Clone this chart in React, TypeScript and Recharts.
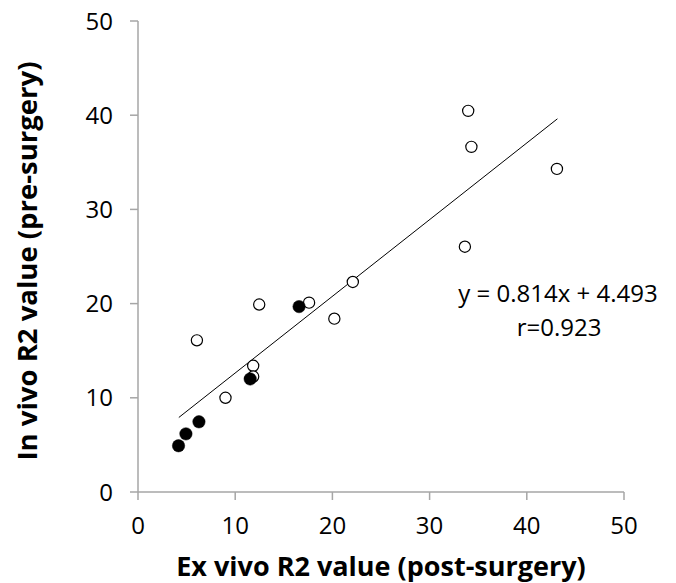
import React from 'react';
import { ScatterChart, Scatter, XAxis, YAxis, ReferenceLine, Customized, Label } from 'recharts';

const openX = [6.06, 9.0, 11.85, 11.85, 12.47, 17.6, 20.2, 22.1, 33.97, 34.3, 43.1, 33.63];
const openY = [16.1, 10.0, 13.4, 12.26, 19.9, 20.1, 18.4, 22.3, 40.46, 36.64, 34.3, 26.04];
const filledX = [4.17, 4.93, 6.27, 11.54, 16.57];
const filledY = [4.91, 6.17, 7.45, 12.0, 19.68];
const axisTicks = [0, 10, 20, 30, 40, 50];
const slope = 0.814;
const intercept = 4.493;
const fitRange = [4.2, 43.15];
const eqText = 'y = 0.814x + 4.493';
const rText = 'r=0.923';
const xTitle = 'Ex vivo R2 value (post-surgery)';
const yTitle = 'In vivo R2 value (pre-surgery)';

const openData = openX.map((x, i) => ({ x, y: openY[i] }));
const filledData = filledX.map((x, i) => ({ x, y: filledY[i] }));
const fitSegment = fitRange.map((x) => ({ x, y: slope * x + intercept }));

const FONT = '"Open Sans", "Liberation Sans", sans-serif';
const AXIS_COLOR = '#a6a6a6';

const OpenDot = (p: any) => (
  <circle cx={p.cx} cy={p.cy} r={5.6} fill="#ffffff" stroke="#000000" strokeWidth={1.2} />
);
const FilledDot = (p: any) => (
  <circle cx={p.cx} cy={p.cy} r={6.2} fill="#000000" stroke="#000000" strokeWidth={0.5} />
);

const Annotation = () => (
  <g>
    <text x={558} y={292} textAnchor="middle" dominantBaseline="central" fontFamily={FONT} fontSize={24} fill="#000">
      {eqText}
    </text>
    <text x={559} y={326} textAnchor="middle" dominantBaseline="central" fontFamily={FONT} fontSize={24} fill="#000">
      {rText}
    </text>
  </g>
);

const XTitle = () => (
  <text x={381} y={576} textAnchor="middle" fontFamily={FONT} fontSize={27} fontWeight={700} fill="#000">
    {xTitle}
  </text>
);

const YTitle = () => (
  <text
    x={37}
    y={261}
    transform="rotate(-90 37 261)"
    textAnchor="middle"
    fontFamily={FONT}
    fontSize={27.5}
    fontWeight={700}
    fill="#000"
  >
    {yTitle}
  </text>
);

export default function App() {
  return (
    <div style={{ position: 'absolute', left: 0, top: 0, background: '#fff' }}>
      <ScatterChart width={676} height={583} margin={{ top: 21, right: 52, bottom: 0, left: 0 }}>
        <XAxis
          type="number"
          dataKey="x"
          domain={[0, 50]}
          ticks={axisTicks}
          interval={0}
          stroke={AXIS_COLOR}
          strokeWidth={1.5}
          tickSize={8}
          tickMargin={17}
          height={91}
          tick={{ fill: '#000', fontSize: 24, fontFamily: FONT }}
        >
          <Label content={XTitle} />
        </XAxis>
        <YAxis
          type="number"
          dataKey="y"
          domain={[0, 50]}
          ticks={axisTicks}
          interval={0}
          stroke={AXIS_COLOR}
          strokeWidth={1.5}
          tickSize={8}
          tickMargin={17}
          width={138}
          tick={{ fill: '#000', fontSize: 24, fontFamily: FONT }}
        >
          <Label content={YTitle} />
        </YAxis>
        <ReferenceLine segment={fitSegment} stroke="#000" strokeWidth={1} ifOverflow="visible" />
        <Scatter data={openData} shape={OpenDot} isAnimationActive={false} />
        <Scatter data={filledData} shape={FilledDot} isAnimationActive={false} />
        <Customized component={Annotation} />
      </ScatterChart>
    </div>
  );
}
